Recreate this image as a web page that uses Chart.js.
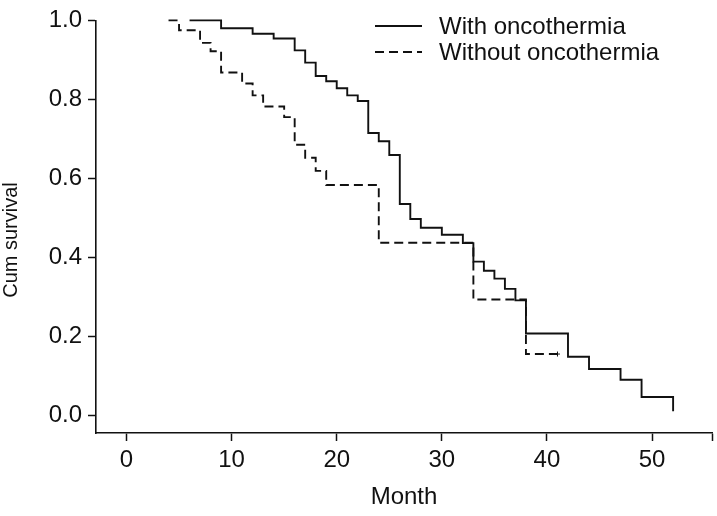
<!DOCTYPE html>
<html>
<head>
<meta charset="utf-8">
<script src="https://cdn.jsdelivr.net/npm/chart.js@4.4.1/dist/chart.umd.min.js"></script>
<style>
  html, body { margin: 0; padding: 0; background: #fff; }
  #wrap { width: 717px; height: 516px; }
</style>
</head>
<body>
<div id="wrap"><canvas id="km" width="717" height="516"></canvas></div>
<script>
// month of each step, and the cumulative survival after it
const withMonths = [6, 9, 12, 14, 16, 17, 18, 19, 20, 21, 22, 23, 24, 25, 26, 27, 28, 30, 32, 33, 34, 35, 36, 37, 38, 42, 44, 47, 49, 52];
const withSurv = [1.0, 0.98, 0.966, 0.954, 0.924, 0.893, 0.859, 0.846, 0.828, 0.81, 0.796, 0.715, 0.694, 0.659, 0.535, 0.497, 0.475, 0.457, 0.436, 0.389, 0.366, 0.346, 0.32, 0.291, 0.207, 0.148, 0.117, 0.09, 0.046, 0.01];
const withoutMonths = [4, 5, 7, 8, 9, 11, 12, 13, 15, 16, 17, 18, 19, 24, 33, 38, 41];
const withoutSurv = [1.0, 0.975, 0.943, 0.922, 0.868, 0.84, 0.81, 0.782, 0.755, 0.685, 0.652, 0.619, 0.583, 0.437, 0.293, 0.155, 0.155];
const seriesNames = ['With oncothermia', 'Without oncothermia'];
const xTicks = [0, 10, 20, 30, 40, 50];
const yTicks = [0, 0.2, 0.4, 0.6, 0.8, 1.0];

const ink = '#111';
const family = "'Liberation Sans', Arial, Helvetica, sans-serif";

function toPoints(xs, ys) {
    return xs.map((x, i) => ({ x: x, y: ys[i] }));
}

// legend in the top right corner and the y axis title
const legendAndTitle = {
    id: 'legendAndTitle',
    afterDraw(chart) {
        const ctx = chart.ctx;
        ctx.save();
        chart.data.datasets.forEach((ds, i) => {
            const y = 26 + i * 26;
            ctx.strokeStyle = ink;
            ctx.lineWidth = 1.8;
            ctx.setLineDash(ds.borderDash || []);
            ctx.beginPath();
            ctx.moveTo(375, y);
            ctx.lineTo(422, y);
            ctx.stroke();
            ctx.setLineDash([]);
            ctx.fillStyle = ink;
            ctx.font = '24px ' + family;
            ctx.textBaseline = 'middle';
            ctx.textAlign = 'left';
            ctx.fillText(ds.label, 439, y + 1);
        });
        ctx.translate(17, 240);
        ctx.rotate(-Math.PI / 2);
        ctx.font = '20px ' + family;
        ctx.textAlign = 'center';
        ctx.textBaseline = 'alphabetic';
        ctx.fillText('Cum survival', 0, 0);
        ctx.restore();
    }
};

const gridOpts = { drawOnChartArea: false, tickLength: 8, tickWidth: 1.5, tickColor: ink };
const borderOpts = { color: ink, width: 1.6 };

new Chart(document.getElementById('km'), {
    type: 'line',
    data: {
        datasets: [
            {
                label: seriesNames[0],
                data: toPoints(withMonths, withSurv),
                borderColor: ink,
                borderWidth: 1.9,
                stepped: 'before',
                pointRadius: 0,
                clip: 4,
                fill: false
            },
            {
                label: seriesNames[1],
                data: toPoints(withoutMonths, withoutSurv),
                borderColor: ink,
                borderWidth: 1.9,
                borderDash: [9, 5],
                stepped: 'before',
                pointStyle: 'cross',
                pointBorderColor: ink,
                pointBorderWidth: 1,
                pointRadius: (c) => (c.dataIndex === withoutMonths.length - 1 ? 2.5 : 0),
                clip: 4,
                fill: false
            }
        ]
    },
    options: {
        responsive: false,
        animation: false,
        devicePixelRatio: 1,
        layout: { padding: { top: 16, right: 3, left: 0, bottom: 0 } },
        plugins: {
            legend: { display: false },
            tooltip: { enabled: false }
        },
        scales: {
            x: {
                type: 'linear',
                min: -2.9,
                max: 55.7,
                afterBuildTicks: (s) => {
                    s.ticks = xTicks.concat([55.7]).map((v) => ({ value: v }));
                },
                afterFit: (s) => { s.height = 83; },
                grid: gridOpts,
                border: borderOpts,
                ticks: {
                    color: ink,
                    font: { family: family, size: 24 },
                    padding: 5,
                    maxRotation: 0,
                    autoSkip: false,
                    callback: (v) => (xTicks.includes(v) ? String(v) : '')
                },
                title: {
                    display: true,
                    text: 'Month',
                    color: ink,
                    font: { family: family, size: 24 },
                    padding: { top: 0, bottom: 4 }
                }
            },
            y: {
                type: 'linear',
                min: -0.045,
                max: 1.0,
                afterBuildTicks: (s) => {
                    s.ticks = yTicks.map((v) => ({ value: v }));
                },
                afterFit: (s) => { s.width = 96; },
                grid: gridOpts,
                border: borderOpts,
                ticks: {
                    color: ink,
                    font: { family: family, size: 24 },
                    padding: 6,
                    callback: (v) => Number(v).toFixed(1)
                }
            }
        }
    },
    plugins: [legendAndTitle]
});
</script>
</body>
</html>
